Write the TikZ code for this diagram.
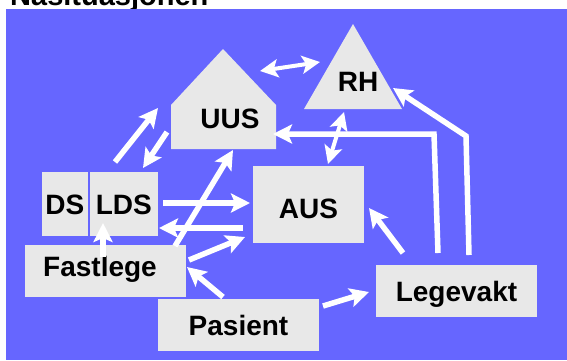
\documentclass[tikz,border=0pt]{standalone}
\usepackage{fontspec}
\setmainfont{Liberation Sans}
\usetikzlibrary{arrows.meta}
\definecolor{bakgrunn}{HTML}{6666FF}
\definecolor{grå}{HTML}{E8E8E8}
\tikzset{
    %Define standard arrow tip
    >={Stealth[length=19pt,width=19pt,inset=4pt]},
    %Define style for text
    tekst/.style={
           inner sep=0pt,
           text height=20pt,
           text depth=0pt,
           font=\fontsize{28}{30}\selectfont\bfseries},
    %Define style for boxes
    boks/.style={
           tekst,
           fill=grå},
    % Define arrow style
    pil/.style={
           ->,
           white,
           line width=5.5pt},
    dobbelpil/.style={
           {Stealth[length=18pt,width=18pt,inset=4pt]}-{Stealth[length=18pt,width=18pt,inset=4pt]},
           white,
           line width=4pt}
}
\begin{document}
\begin{tikzpicture}[x=1pt,y=-1pt]
    \useasboundingbox (0,0) rectangle (567,360);
    % title and background
    \node[anchor=base west, inner sep=0pt, font=\fontsize{29}{31}\selectfont\bfseries] (tittel) at (10,5) {Nåsituasjonen};
    \fill[bakgrunn] (6,9) rectangle (567,360);

    % hospitals
    \fill[grå] (171,149) -- (171,105) -- (223,49) -- (276,105) -- (276,149) -- cycle;
    \fill[grå] (353,24) -- (304,109) -- (402,109) -- cycle;
    \node[tekst, anchor=base](uus) at (230,128){UUS};
    \node[tekst, anchor=base](rh) at (358,91){RH};

    % boxes
    \node[boks, minimum width=45.5pt, minimum height=64pt](ds) at (64.75,204){DS};
    \node[boks, minimum width=68.5pt, minimum height=64pt](lds) at (123.75,204){LDS};
    \node[boks, minimum width=111pt, minimum height=77pt, text height=27pt](aus) at (308.5,204.5){AUS};
    \node[boks, minimum width=161pt, minimum height=52pt, text depth=10pt](fastlege) at (105.5,271){Fastlege\hspace*{11pt}};
    \node[boks, minimum width=161pt, minimum height=52pt](pasient) at (238.5,325){Pasient};
    \node[boks, minimum width=161pt, minimum height=52pt](legevakt) at (456.5,291){Legevakt};

    % arrow ends
    \coordinate (lds-ut) at (115,162);   \coordinate (uus-inn) at (158,108);
    \coordinate (uus-ut) at (167,132);   \coordinate (lds-inn) at (143,168);
    \coordinate (uus-rh) at (260,71);    \coordinate (rh-uus) at (320,62);
    \coordinate (rh-aus) at (344,112);   \coordinate (aus-rh) at (328,164);
    \coordinate (lds-aus) at (163,203);  \coordinate (aus-inn) at (250,203);
    \coordinate (aus-lds) at (243,228);  \coordinate (lds-inn2) at (159,228);
    \coordinate (fl-uus) at (175,246);   \coordinate (uus-bunn) at (233,150);
    \coordinate (fl-aus) at (189,260);   \coordinate (aus-inn2) at (245,237);
    \coordinate (fl-lds) at (103,257);   \coordinate (lds-bunn) at (103,223);
    \coordinate (pas-fl) at (223,297);   \coordinate (fl-inn) at (187,267);
    \coordinate (pas-lv) at (323,306);   \coordinate (lv-inn) at (369,292);
    \coordinate (lv-aus) at (403,253);   \coordinate (aus-inn3) at (369,208);
    \coordinate (lv-uus) at (438,253);   \coordinate (hjorne1) at (434,134);
    \coordinate (uus-side) at (273,134);
    \coordinate (lv-rh) at (469,255);    \coordinate (hjorne2) at (466,136);
    \coordinate (rh-side) at (393,88);

    % edges
    \draw[pil] (lds-ut) -- (uus-inn);
    \draw[pil] (uus-ut) -- (lds-inn);
    \draw[dobbelpil] (uus-rh) -- (rh-uus);
    \draw[dobbelpil] (rh-aus) -- (aus-rh);
    \draw[pil] (lds-aus) -- (aus-inn);
    \draw[pil] (aus-lds) -- (lds-inn2);
    \draw[pil] (fl-uus) -- (uus-bunn);
    \draw[pil] (fl-aus) -- (aus-inn2);
    \draw[pil] (fl-lds) -- (lds-bunn);
    \draw[pil] (pas-fl) -- (fl-inn);
    \draw[pil] (pas-lv) -- (lv-inn);
    \draw[pil] (lv-aus) -- (aus-inn3);
    \draw[pil] (lv-uus) -- (hjorne1) -- (uus-side);
    \draw[pil] (lv-rh) -- (hjorne2) -- (rh-side);
\end{tikzpicture}
\end{document}
